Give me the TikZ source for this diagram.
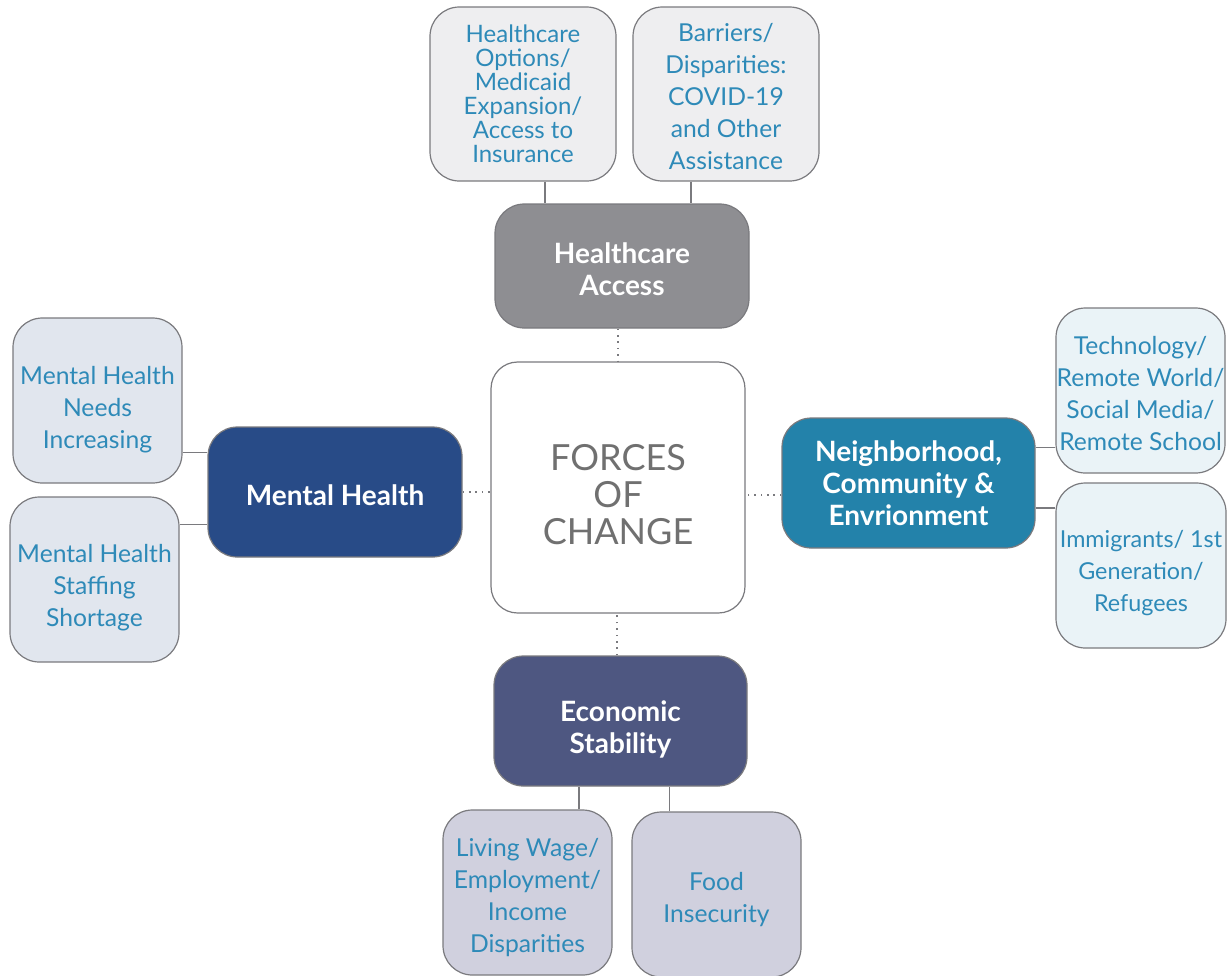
\documentclass[tikz,border=0pt]{standalone}
\usepackage{fontspec}
\setmainfont{Lato}
\definecolor{subtext}{HTML}{2E8AB8}
\definecolor{edge}{HTML}{7A7A7E}
\definecolor{hafill}{HTML}{8E8E92}
\definecolor{hasub}{HTML}{EEEEF0}
\definecolor{mhfill}{HTML}{284B87}
\definecolor{mhsub}{HTML}{E1E6EE}
\definecolor{ncefill}{HTML}{2382AA}
\definecolor{ncesub}{HTML}{EAF3F7}
\definecolor{esfill}{HTML}{4E5781}
\definecolor{essub}{HTML}{D0D0DE}
\definecolor{centertext}{HTML}{707070}
\newcommand{\tup}[1]{\rule{0pt}{#1}}
\tikzset{
  box/.style={draw=edge, line width=0.9pt, rounded corners=22pt, inner sep=0pt, align=center},
  subbox/.style={box, text=subtext, font=\fontsize{18.5}{24}\selectfont, minimum width=126.75pt, minimum height=123.75pt},
  mainbox/.style={box, text=white, font=\bfseries\fontsize{21}{24}\selectfont, minimum width=190.5pt, minimum height=97.5pt},
  link/.style={draw=edge, line width=0.9pt},
  dotlink/.style={draw=edge, line width=1.2pt, dash pattern=on 1.2pt off 3.6pt},
}
\begin{document}
\begin{tikzpicture}[x=0.75pt,y=-0.75pt]
\useasboundingbox (0,0) rectangle (1230,975);
\clip (0,0) rectangle (1230,975);
% center
\node[box, fill=white, rounded corners=20pt, minimum width=190.5pt, minimum height=188.25pt, text=centertext, font=\fontsize{27}{28}\selectfont] (FC) at (618,487.5) {\tup{30pt}FORCES\\OF\\CHANGE};
% healthcare access
\node[mainbox, fill=hafill, minimum height=93pt] (HA) at (622,266) {\tup{19.8pt}Healthcare\\Access};
\node[subbox, fill=hasub, minimum width=139.5pt, minimum height=130.5pt, font=\fontsize{18}{18}\selectfont] (HO) at (523,94) {Healthcare\\Options/\\Medicaid\\Expansion/\\Access to\\Insurance};
\node[subbox, fill=hasub, minimum width=139.5pt, minimum height=130.5pt] (BD) at (726,94) {\tup{18pt}Barriers/\\Disparities:\\COVID-19\\and Other\\Assistance};
% mental health
\node[mainbox, fill=mhfill] (MH) at (335,492) {\tup{19.8pt}Mental Health};
\node[subbox, fill=mhsub] (MHN) at (97.5,400.5) {\tup{27pt}Mental Health\\Needs\\Increasing};
\node[subbox, fill=mhsub] (MHS) at (94.5,579.5) {\tup{25.5pt}Mental Health\\Staffing\\Shortage};
% neighborhood
\node[mainbox, fill=ncefill, minimum width=189.75pt] (NCE) at (908.5,483) {Neighborhood,\\Community \&\\Envrionment};
\node[subbox, fill=ncesub] (TE) at (1140.5,390.5) {\tup{18pt}Technology/\\Remote World/\\Social Media/\\Remote School};
\node[subbox, fill=ncesub, minimum width=127.5pt, font=\fontsize{17.5}{24}\selectfont] (IM) at (1141,565.5) {\tup{23.5pt}Immigrants/ 1st\\Generation/\\Refugees};
% economic
\node[mainbox, fill=esfill, minimum width=189.75pt] (ES) at (620.5,721) {\tup{28.8pt}Economic\\Stability};
\node[subbox, fill=essub] (LW) at (527.5,892.5) {\tup{21pt}Living Wage/\\Employment/\\Income\\Disparities};
\node[subbox, fill=essub] (FI) at (716.5,894.5) {\tup{21pt}Food\\Insecurity};
% connectors
\draw[link] ([xshift=16.5pt]HO.south) -- ([xshift=16.5pt]HO.south |- HA.north);
\draw[link] ([xshift=-26.25pt]BD.south) -- ([xshift=-26.25pt]BD.south |- HA.north);
\draw[dotlink] ([xshift=-3pt]HA.south) -- ([xshift=-3pt]HA.south |- FC.north);
\draw[dotlink] (MH.east) -- (MH.east -| FC.west);
\draw[link] ([yshift=-39pt]MHN.east) -- ([yshift=-39pt]MHN.east -| MH.west);
\draw[link] ([yshift=41.25pt]MHS.east) -- ([yshift=41.25pt]MHS.east -| MH.west);
\draw[dotlink] ([yshift=-9pt]NCE.west) -- ([yshift=-9pt]NCE.west -| FC.east);
\draw[link] ([yshift=-42.75pt]TE.west) -- ([yshift=-42.75pt]TE.west -| NCE.east);
\draw[link] ([yshift=43.1pt]IM.west) -- ([yshift=43.1pt]IM.west -| NCE.east);
\draw[dotlink] ([xshift=-2.6pt]ES.north) -- ([xshift=-2.6pt]ES.north |- FC.south);
\draw[link] ([xshift=38.6pt]LW.north) -- ([xshift=38.6pt]LW.north |- ES.south);
\draw[link] ([xshift=-35pt]FI.north) -- ([xshift=-35pt]FI.north |- ES.south);
\end{tikzpicture}
\end{document}
